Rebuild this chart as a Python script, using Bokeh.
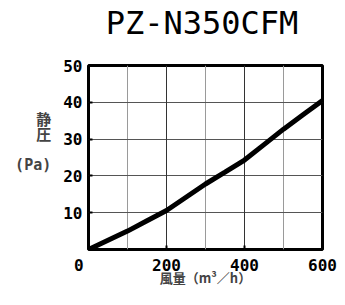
from bokeh.plotting import figure
from bokeh.models import Range1d, FixedTicker, Grid, LinearAxis
from bokeh.embed import file_html
from bokeh.resources import INLINE

# data
airflow = [0, 50, 100, 150, 200, 250, 300, 350, 400, 450, 500, 550, 600]
pressure = [0, 2.5, 5.0, 7.8, 10.6, 14.2, 17.8, 21.0, 24.3, 28.5, 32.7, 36.6, 40.5]
x_ticks = [0, 200, 400, 600]
y_ticks = [10, 20, 30, 40, 50]
grid_x_light = [100, 300, 500]
grid_x_dark = [200, 400]
grid_y = [10, 20, 30, 40]
title_text = "PZ-N350CFM"
x_label = "風量（m³／h）"
y_label = "静\n圧\n\n(Pa)\n\n"

TITLE_X = 291  # horizontal anchor of the heading, in x-axis units

p = figure(width=337, height=289, output_backend="svg", toolbar_location=None,
           x_range=Range1d(0, 600), y_range=Range1d(0, 50),
           min_border_left=88, min_border_right=15, min_border_top=65, min_border_bottom=40)
p.background_fill_color = "white"
p.border_fill_color = "white"
p.outline_line_color = "black"
p.outline_line_width = 3

xax = p.below[0]
yax = p.left[0]

# heading drawn as the single label of an axis above the frame
tax = LinearAxis(ticker=FixedTicker(ticks=[TITLE_X]),
                 major_label_overrides={TITLE_X: title_text})
tax.axis_line_color = None
tax.major_tick_line_color = None
tax.minor_tick_line_color = None
tax.major_tick_in = 0
tax.major_tick_out = 0
tax.major_label_text_font = "DejaVu Sans Mono"
tax.major_label_text_font_size = "32px"
tax.major_label_text_color = "black"
tax.major_label_standoff = 24
p.add_layout(tax, "above")

xax.ticker = FixedTicker(ticks=x_ticks)
xax.major_label_overrides = {0: "0\u00a0\u00a0"}
yax.ticker = FixedTicker(ticks=y_ticks)
p.xgrid.ticker = FixedTicker(ticks=grid_x_light)
p.xgrid.grid_line_color = "#9a9a9a"
p.ygrid.ticker = FixedTicker(ticks=grid_y)
p.ygrid.grid_line_color = "#555555"
p.add_layout(Grid(dimension=0, ticker=FixedTicker(ticks=grid_x_dark),
                  grid_line_color="#333333", grid_line_width=1))

for ax in (xax, yax):
    ax.axis_line_color = None
    ax.major_tick_out = 0
    ax.major_tick_in = 4
    ax.major_tick_line_width = 2
    ax.minor_tick_line_color = None
    ax.major_label_text_font = "DejaVu Sans Mono"
    ax.major_label_text_font_style = "bold"
    ax.major_label_text_font_size = "16px"
    ax.major_label_text_color = "black"
xax.major_label_standoff = 6
yax.major_label_standoff = 6

xax.axis_label = x_label
xax.axis_label_text_font = "Noto Sans CJK JP"
xax.axis_label_text_font_style = "bold"
xax.axis_label_text_font_size = "13px"
xax.axis_label_standoff = -10

yax.axis_label = y_label
yax.axis_label_orientation = "horizontal"
yax.axis_label_text_font = "'DejaVu Sans Mono', 'Noto Sans CJK JP'"
yax.axis_label_text_font_style = "bold"
yax.axis_label_text_font_size = "15px"
yax.axis_label_text_line_height = 0.84
yax.axis_label_standoff = 9

p.line(airflow, pressure, line_color="black", line_width=5)

open("out.html", "w").write(file_html(p, INLINE))
